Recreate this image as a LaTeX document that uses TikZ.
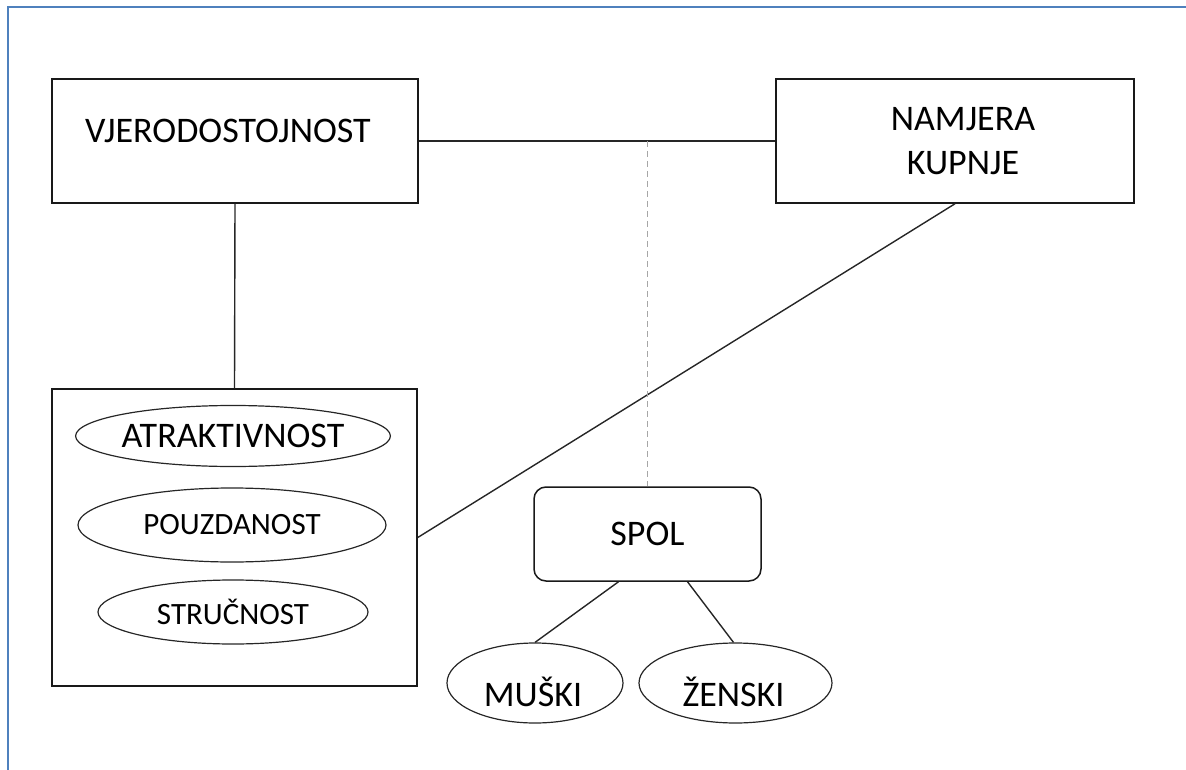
\documentclass[tikz,border=0pt]{standalone}
\usepackage{fontspec}
\setmainfont{Carlito}
\usepackage{tikz}
\usetikzlibrary{shapes.geometric, positioning}
\definecolor{frameblue}{RGB}{79,129,189}

\begin{document}
\begin{tikzpicture}[x=1pt, y=-1pt,
    every node/.style={font=\fontsize{36}{44}\selectfont, inner sep=0pt},
    box/.style={draw=black!90, line width=1.5pt, rectangle},
    oval/.style={draw=black!85, line width=1.2pt, ellipse},
    small/.style={font=\fontsize{31}{36}\selectfont},
    conn/.style={draw=black!85, line width=1.4pt}]
        \useasboundingbox (0,0) rectangle (1186,770);
        \draw[frameblue, line width=2pt] (8,770) -- (8,7) -- (1186,7);

        % vjerodostojnost
        \node[box, minimum width=366, minimum height=124,
              label={[xshift=-7, yshift=10]center:VJERODOSTOJNOST}] (vjer) at (235,141) {};

        % namjera kupnje
        \node[box, minimum width=358, minimum height=124,
              label={[xshift=8, align=center]center:NAMJERA\\KUPNJE}] (namjera) at (955,141) {};

        % dimenzije
        \node[box, minimum width=365, minimum height=297] (dim) at (234.5,537.5) {};
        \node[oval, minimum width=268, minimum height=61] (atrak) at (233,436) {ATRAKTIVNOST};
        \node[oval, small, minimum width=308, minimum height=74] (pouzd) at (232,525) {POUZDANOST};
        \node[oval, small, minimum width=270, minimum height=64] (strucn) at (233,612) {STRUČNOST};

        % spol
        \node[box, rounded corners=12, minimum width=227, minimum height=94] (spol) at (647.5,534) {SPOL};
        \node[oval, minimum width=176, minimum height=80,
              label={[xshift=-2, yshift=-9]center:MUŠKI}] (muski) at (535,683) {};
        \node[oval, minimum width=193, minimum height=80,
              label={[xshift=-2, yshift=-9]center:ŽENSKI}] (zenski) at (735.5,683) {};

        % veze
        \draw[conn] (vjer.east) -- (namjera.west);
        \draw[conn] (vjer.south) -- (dim.north);
        \draw[conn] (dim.east) -- (namjera.south);
        \coordinate (spoj) at (spol.north |- vjer.east);
        \draw[black!35, line width=1.3pt, dash pattern=on 6pt off 4pt] (spoj) -- (spol.north);
        \draw[conn] ([xshift=-29]spol.south) -- (muski.north);
        \draw[conn] ([xshift=40]spol.south) -- ([xshift=-2]zenski.north);
      \end{tikzpicture}
\end{document}
